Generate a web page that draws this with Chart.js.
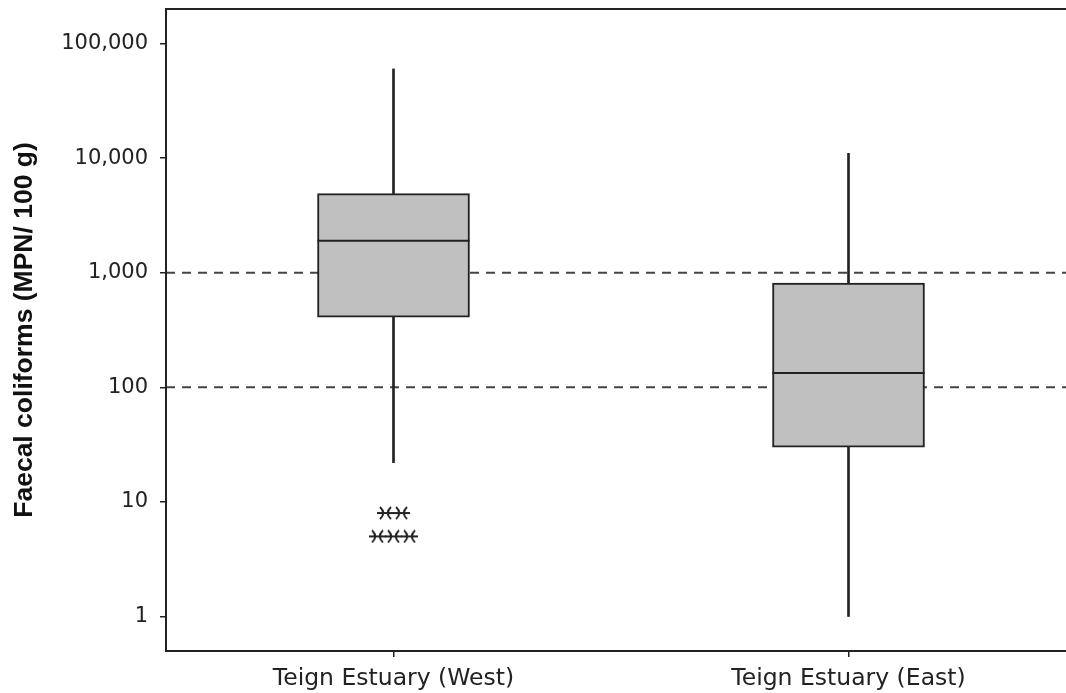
<!DOCTYPE html>
<html>
<head>
<meta charset="utf-8">
<script src="https://cdn.jsdelivr.net/npm/chart.js@4.4.1/dist/chart.umd.min.js"></script>
<style>
  html, body { margin: 0; padding: 0; background: #fff; overflow: hidden; width: 1066px; height: 693px; }
  #c { display: block; }
</style>
</head>
<body>
<canvas id="c" width="1076" height="693"></canvas>
<script>
// Faecal coliform counts per site (MPN / 100 g), summarised as box plots
const categories = ['Teign Estuary (West)', 'Teign Estuary (East)'];
const whiskerLow  = [22, 1];
const q1          = [410, 30];
const median      = [1900, 133];
const q3          = [4900, 810];
const whiskerHigh = [60000, 11000];
const outliers    = [[8, 8, 5, 5, 5], []];
const yTicks      = [1, 10, 100, 1000, 10000, 100000];
const refLevels   = [100, 1000];

const INK = '#222';
const BOX_FILL = '#c0c0c0';
const TIE_SPACING = 0.0352; // horizontal spread of tied outliers, in category units

// asterisk-like outlier marker
function makeStar() {
  const cv = document.createElement('canvas');
  cv.width = 17; cv.height = 14;
  const g = cv.getContext('2d');
  g.strokeStyle = '#222';
  g.lineWidth = 2;
  g.beginPath();
  g.moveTo(0, 7); g.lineTo(17, 7);
  g.moveTo(3, 1); g.quadraticCurveTo(9.5, 7, 3, 13);
  g.moveTo(14, 1); g.quadraticCurveTo(7.5, 7, 14, 13);
  g.stroke();
  return cv;
}

// place tied outliers side by side around the category centre
const outlierPoints = [];
outliers.forEach((vals, i) => {
  const counts = {};
  vals.forEach(v => { counts[v] = (counts[v] || 0) + 1; });
  Object.keys(counts).forEach(k => {
    const n = counts[k];
    for (let j = 0; j < n; j++) {
      outlierPoints.push({ x: i + (j - (n - 1) / 2) * TIE_SPACING, y: Number(k) });
    }
  });
});

const frame = {
  id: 'frame',
  afterDatasetsDraw(chart) {
    const { ctx, chartArea: a } = chart;
    ctx.save();
    ctx.strokeStyle = INK;
    ctx.lineWidth = 2;
    ctx.strokeRect(a.left, a.top, a.right - a.left, a.bottom - a.top);
    ctx.restore();
  }
};

new Chart(document.getElementById('c'), {
  data: {
    labels: categories,
    datasets: [
      {
        type: 'line', xAxisID: 'x', data: median, showLine: false,
        pointStyle: 'line', pointRadius: 76, pointBorderWidth: 2,
        pointBorderColor: INK, pointBackgroundColor: INK
      },
      {
        type: 'line', xAxisID: 'xl', data: outlierPoints, showLine: false,
        pointStyle: makeStar(), pointRadius: 8
      },
      {
        type: 'bar', xAxisID: 'x', grouped: false,
        data: q1.map((v, i) => [v, q3[i]]),
        barThickness: 152, backgroundColor: BOX_FILL,
        borderColor: INK, borderWidth: 2, borderSkipped: false
      },
      {
        type: 'bar', xAxisID: 'x', grouped: false,
        data: q3.map((v, i) => [v, whiskerHigh[i]]),
        barThickness: 2, backgroundColor: INK, borderWidth: 0
      },
      {
        type: 'bar', xAxisID: 'x', grouped: false,
        data: whiskerLow.map((v, i) => [v, q1[i]]),
        barThickness: 2, backgroundColor: INK, borderWidth: 0
      },
      ...refLevels.map(lv => ({
        type: 'line', xAxisID: 'xl',
        data: [{ x: -0.5, y: lv }, { x: 1.5, y: lv }],
        borderColor: '#444', borderWidth: 2, borderDash: [9, 7],
        pointRadius: 0, fill: false
      }))
    ]
  },
  options: {
    responsive: false,
    animation: false,
    events: [],
    layout: { autoPadding: false, padding: { top: 9, left: 0, right: 0, bottom: 0 } },
    plugins: { legend: { display: false }, tooltip: { enabled: false } },
    scales: {
      x: {
        type: 'category',
        offset: true,
        border: { display: false },
        grid: { display: true, drawOnChartArea: false, offset: false, tickLength: 6, color: INK, lineWidth: 1.5 },
        ticks: {
          color: INK, padding: 8, maxRotation: 0, autoSkip: false,
          font: { family: 'DejaVu Sans', size: 23.5 }
        },
        afterFit(scale) { scale.height = 42; scale.paddingLeft = 0; scale.paddingRight = 0; }
      },
      xl: { type: 'linear', display: false, min: -0.5, max: 1.5 },
      y: {
        type: 'logarithmic',
        min: 0.5, max: 200000,
        border: { display: false },
        grid: { display: true, drawOnChartArea: false, tickLength: 6, color: INK, lineWidth: 1.5 },
        afterBuildTicks(scale) { scale.ticks = yTicks.map(v => ({ value: v })); },
        ticks: {
          color: INK, padding: 12,
          font: { family: 'DejaVu Sans', size: 21 },
          callback: v => Number(v).toLocaleString('en-US')
        },
        title: {
          display: true,
          text: 'Faecal coliforms (MPN/ 100 g)',
          color: '#111',
          padding: { top: 9, bottom: 0 },
          font: { family: 'Liberation Sans', size: 26.5, weight: 'bold' }
        },
        afterFit(scale) { scale.width = 166; scale.paddingTop = 0; scale.paddingBottom = 0; }
      }
    }
  },
  plugins: [frame]
});
</script>
</body>
</html>
